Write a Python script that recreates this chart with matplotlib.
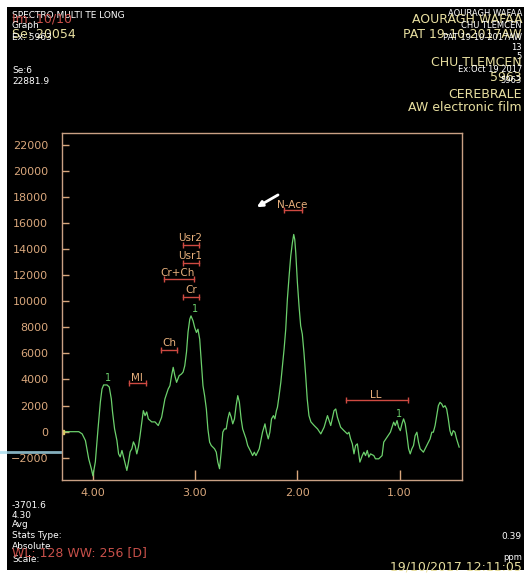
import numpy as np
import matplotlib
matplotlib.use("Agg")
from matplotlib import pyplot as plt
from matplotlib.patches import Rectangle
from matplotlib.lines import Line2D

# spectrum (ppm, signal)
ppm = [4.30, 4.136, 4.103, 4.071, 4.039, 4.013, 3.998, 3.974, 3.948, 3.925, 3.909, 3.893, 3.860, 3.838,
       3.818, 3.806, 3.786, 3.763, 3.747, 3.731, 3.714, 3.699, 3.682, 3.666, 3.650, 3.634, 3.617, 3.602,
       3.585, 3.569, 3.553, 3.537, 3.520, 3.505, 3.488, 3.472, 3.456, 3.423, 3.391, 3.359, 3.326, 3.294,
       3.262, 3.245, 3.229, 3.213, 3.197, 3.180, 3.155, 3.132, 3.116, 3.100, 3.083, 3.068, 3.051, 3.039,
       3.019, 3.003, 2.986, 2.971, 2.954, 2.938, 2.922, 2.906, 2.889, 2.874, 2.857, 2.841, 2.809, 2.792,
       2.777, 2.760, 2.744, 2.728, 2.712, 2.695, 2.679, 2.663, 2.646, 2.631, 2.614, 2.598, 2.582, 2.566,
       2.549, 2.534, 2.501, 2.485, 2.452, 2.437, 2.420, 2.404, 2.388, 2.372, 2.340, 2.316, 2.301, 2.284,
       2.268, 2.252, 2.233, 2.219, 2.204, 2.194, 2.178, 2.161, 2.145, 2.129, 2.113, 2.097, 2.080, 2.064,
       2.048, 2.035, 2.025, 2.015, 1.999, 1.983, 1.967, 1.951, 1.935, 1.918, 1.903, 1.886, 1.867, 1.835,
       1.802, 1.770, 1.738, 1.705, 1.689, 1.673, 1.641, 1.624, 1.608, 1.576, 1.544, 1.511, 1.495, 1.479,
       1.462, 1.446, 1.430, 1.413, 1.388, 1.365, 1.349, 1.333, 1.316, 1.301, 1.284, 1.252, 1.236, 1.204,
       1.171, 1.155, 1.122, 1.090, 1.058, 1.042, 1.025, 1.010, 0.993, 0.977, 0.961, 0.945, 0.928, 0.912,
       0.896, 0.880, 0.864, 0.848, 0.831, 0.815, 0.799, 0.767, 0.734, 0.702, 0.685, 0.670, 0.653, 0.637,
       0.621, 0.605, 0.588, 0.573, 0.556, 0.540, 0.524, 0.508, 0.492, 0.476, 0.459, 0.443, 0.418]
signal = [0, 0, -170, -680, -2080, -2840, -3380, -2310, 210, 2280, 3270, 3580, 3580, 3420,
          2510, 1510, 210, -680, -1700, -1930, -1440, -1930, -2460, -2970, -2310, -1540, -1310, -780,
          -1080, -1700, -1160, -300, 750, 1610, 1230, 1510, 980, 750, 750, 470, 1110, 2510,
          3270, 3520, 4290, 4930, 4290, 3780, 4290, 4420, 4570, 5050, 6100, 7630, 8620, 8870,
          8490, 7980, 7600, 7850, 7090, 5330, 3520, 2760, 1740, 210, -800, -1060, -1310, -1570,
          -2330, -2840, -1570, -40, 210, 210, 980, 1490, 1110, 600, 980, 1990, 2760, 2250,
          980, 210, -550, -1060, -1570, -1830, -1570, -1830, -1570, -1310, -40, 600, -40, -550,
          -40, 980, 1230, 980, 1610, 1870, 2760, 3780, 5050, 6330, 7850, 10150, 11930, 13450,
          14480, 15110, 14730, 13710, 11420, 9630, 8110, 7470, 6070, 4290, 2510, 1230, 750, 470,
          210, -170, 340, 1230, 850, 470, 1610, 1740, 1110, 340, 80, -170, -40, -550,
          -930, -1700, -1060, -930, -2330, -1830, -1570, -1830, -1440, -1950, -1700, -1830, -2080, -2080,
          -1830, -800, -420, -40, 730, 470, 850, 340, 80, 600, 980, 600, -300, -1310,
          -1700, -1310, -1060, -300, -40, -800, -1310, -1570, -1060, -550, -40, -40, 470, 1230,
          1990, 2250, 2120, 1870, 1990, 1740, 980, 80, -300, 80, -40, -550, -1180]

y_ticks = [-2000, 0, 2000, 4000, 6000, 8000, 10000, 12000, 14000, 16000, 18000, 20000, 22000]
x_ticks = [4.0, 3.0, 2.0, 1.0]
x_ticklabels = ["4.00", "3.00", "2.00", "1.00"]

# metabolite labels: name, text x, text y, bracket start, bracket end, bracket y
met_names = ["Usr2", "Usr1", "Cr+Ch", "Cr", "Ch", "MI", "N-Ace", "LL"]
met_text_x = [3.044, 3.044, 3.168, 3.035, 3.255, 3.566, 2.051, 1.236]
met_text_y = [14806, 13431, 12132, 10834, 6784, 4149, 17404, 2812]
met_x1 = [3.122, 3.122, 3.304, 3.116, 3.336, 3.641, 2.132, 1.527]
met_x2 = [2.961, 2.961, 3.012, 2.961, 3.175, 3.479, 1.957, 0.922]
met_y = [14272, 12950, 11674, 10352, 6272, 3705, 16969, 2430]

# green "1" peak marks
one_x = [3.854, 3.003, 1.010]
one_y = [4110, 9382, 1360]

tan = "#d9a77c"
red = "#cf4a42"
yellow = "#e8dfa0"
green = "#6cd06c"

W, H = 524, 576

fig = plt.figure(figsize=(5.24, 5.76), dpi=100, facecolor="white")
fig.patches.append(Rectangle((7 / W, 1 - 570 / H), 1 - 7 / W, 563 / H, transform=fig.transFigure,
                             facecolor="black", edgecolor="none", zorder=-10))
fig.add_artist(Line2D([0, 60 / W], [1 - 452 / H, 1 - 452 / H], color="#a6dcee", lw=2, alpha=0.8,
                      zorder=5))

ax = fig.add_axes([62 / W, 1 - 480 / H, 400 / W, 347 / H])
ax.set_zorder(1)
ax.set_facecolor("black")

ax.plot(ppm, signal, color=green, lw=0.9)
ax.plot(ppm[0], signal[0], "s", color="#d8c860", ms=2.5)

for i in range(len(met_names)):
    ax.text(met_text_x[i], met_text_y[i], met_names[i], color="#e8b07c", fontsize=7.5,
            ha="center", va="center")
    ax.plot([met_x1[i], met_x2[i]], [met_y[i], met_y[i]], color=red, lw=1,
            marker="|", ms=4, mew=1)

for i in range(len(one_x)):
    ax.text(one_x[i], one_y[i], "1", color=green, fontsize=7, ha="center", va="center")

ax.annotate("", xy=(2.42, 17098), xytext=(2.165, 18244),
            arrowprops=dict(arrowstyle="-|>", color="white", lw=2, mutation_scale=8))

ax.set_xlim(4.30, 0.39)
ax.set_ylim(-3701.6, 22881.9)
ax.set_xticks(x_ticks)
ax.set_xticklabels(x_ticklabels)
ax.set_yticks(y_ticks)
ax.tick_params(axis="y", direction="in", length=5, width=1, color=tan, labelcolor=tan,
               labelsize=8, pad=10)
ax.tick_params(axis="x", direction="in", length=7, width=1, color=tan, labelcolor=tan,
               labelsize=8, pad=6)
for s in ax.spines.values():
    s.set_color("#c9a084")
    s.set_linewidth(1)


def ftext(x, y, s, color="white", size=6.5, ha="left", **kw):
    fig.text(x / W, 1 - y / H, s, color=color, fontsize=size, ha=ha, va="center", **kw)


# top left overlay
ftext(12, 15.5, "SPECTRO MULTI TE LONG")
ftext(12, 19, "Im: 10/10", color="#c8504a", size=9)
ftext(12, 26, "Graph")
ftext(12, 34, "Se: 20054", color=yellow, size=9)
ftext(12, 37.5, "Ex: 5963")
ftext(12, 70.5, "Se:6")
ftext(12, 81, "22881.9")

# top right overlay
ftext(522, 14, "AOURAGH WAFAA", size=6, ha="right")
ftext(522, 19.5, "AOURAGH WAFAA", color=yellow, size=9, ha="right")
ftext(522, 25.5, "CHU TLEMCEN", size=6, ha="right")
ftext(522, 34, "PAT 19-10-2017AW", color=yellow, size=9, ha="right")
ftext(522, 38, "PAT 19-10-2017AW", size=6, ha="right")
ftext(522, 47, "13", size=6, ha="right")
ftext(522, 56.5, "5", size=6, ha="right")
ftext(522, 62, "CHU TLEMCEN", color=yellow, size=9, ha="right")
ftext(522, 70, "Ex:Oct 19 2017", size=6, ha="right")
ftext(522, 77.5, "5963", color=yellow, size=9, ha="right")
ftext(522, 80.5, "5963", size=6, ha="right")
ftext(522, 94, "CEREBRALE", color=yellow, size=9, ha="right")
ftext(522, 107.5, "AW electronic film", color=yellow, size=9, ha="right")

# bottom left overlay
ftext(12, 505, "-3701.6")
ftext(12, 515, "4.30")
ftext(12, 524.5, "Avg")
ftext(12, 535.5, "Stats Type:")
ftext(12, 546.5, "Absolute")
ftext(12, 559.5, "Scale:")
ftext(12, 552.5, "WL: 128 WW: 256 [D]", color="#c8504a", size=9)

# bottom right overlay
ftext(522, 536.5, "0.39", ha="right")
ftext(522, 557, "ppm", size=6, ha="right")
ftext(522, 567, "19/10/2017 12:11:05", color=yellow, size=9, ha="right")

plt.savefig("out.png", dpi=100, facecolor=fig.get_facecolor())
